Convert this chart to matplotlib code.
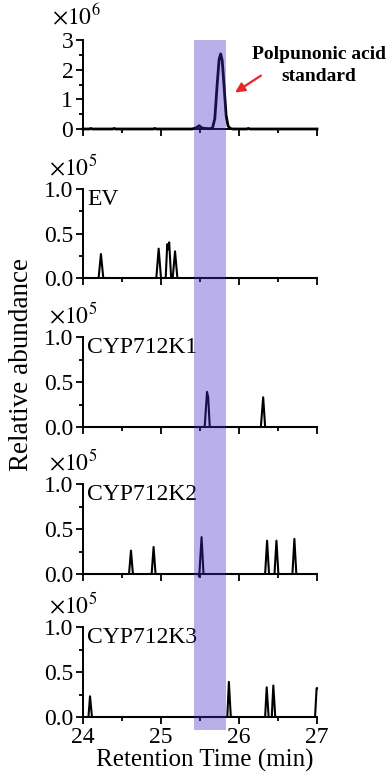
import numpy as np
import matplotlib.pyplot as plt
from matplotlib.patches import Rectangle
from matplotlib import transforms

plt.rcParams['font.family'] = ['Liberation Serif', 'DejaVu Serif']
plt.rcParams['mathtext.fontset'] = 'stix'

# standard trace (x1e6)
std_x = [24.0, 24.08, 24.1, 24.12, 24.38, 24.4, 24.42, 24.9, 24.92, 24.94,
         25.4, 25.45, 25.49, 25.52, 25.56, 25.62, 25.66, 25.69, 25.72, 25.745,
         25.765, 25.785, 25.81, 25.835, 25.86, 25.885, 25.92, 26.1, 26.12, 26.14, 27.0]
std_y = [0.0, 0.0, 0.02, 0.0, 0.0, 0.02, 0.0, 0.0, 0.02, 0.0,
         0.0, 0.04, 0.11, 0.04, 0.02, 0.01, 0.03, 0.35, 1.5, 2.35,
         2.53, 2.3, 1.4, 0.45, 0.1, 0.02, 0.0, 0.0, 0.02, 0.0, 0.0]

# sample traces (x1e5)
ev_x = [24.0, 24.2, 24.23, 24.26, 24.94, 24.97, 25.0, 25.06, 25.08, 25.09, 25.105, 25.13,
        25.15, 25.18, 25.21, 27.0]
ev_y = [0, 0, 0.27, 0, 0, 0.33, 0, 0, 0.38, 0.32, 0.40, 0,
        0, 0.30, 0, 0]

k1_x = [24.0, 25.56, 25.59, 25.605, 25.625, 26.28, 26.31, 26.335, 27.0]
k1_y = [0, 0, 0.39, 0.33, 0, 0, 0.33, 0, 0]

k2_x = [24.0, 24.59, 24.615, 24.64, 24.88, 24.905, 24.93, 25.48, 25.49, 25.52, 25.545,
        26.335, 26.36, 26.385, 26.455, 26.48, 26.505, 26.685, 26.71, 26.735, 27.0]
k2_y = [0, 0, 0.26, 0, 0, 0.30, 0, 0, -0.03, 0.41, 0,
        0, 0.37, 0, 0, 0.37, 0, 0, 0.39, 0, 0]

k3_x = [24.0, 24.07, 24.09, 24.115, 25.85, 25.87, 25.895, 26.335, 26.355, 26.38,
        26.42, 26.44, 26.465, 26.975, 26.995, 27.0]
k3_y = [0, 0, 0.23, 0, 0, 0.39, 0, 0, 0.33, 0,
        0, 0.35, 0, 0, 0.32, 0.32]

sample_names = ['EV', 'CYP712K1', 'CYP712K2', 'CYP712K3']
sample_x = [ev_x, k1_x, k2_x, k3_x]
sample_y = [ev_y, k1_y, k2_y, k3_y]

shade_start, shade_end = 25.42, 25.83
xticks = [24, 25, 26, 27]

W, H = 391, 778
fig = plt.figure(figsize=(W / 100, H / 100), dpi=100)

left, right = 83, 317
# (top, bottom) pixels of each panel
panels = [(40, 129), (189, 278), (337, 427), (484, 574), (627, 717)]
FS = 17


def make_ax(top, bottom):
    ax = fig.add_axes([left / W, 1 - bottom / H, (right - left) / W, (bottom - top) / H])
    for s in ['top', 'right']:
        ax.spines[s].set_visible(False)
    for s in ['left', 'bottom']:
        ax.spines[s].set_linewidth(1.4)
    ax.set_xlim(24, 27)
    ax.set_xticks(xticks)
    ax.set_xticks([24.5, 25.5, 26.5], minor=True)
    ax.tick_params(which='major', length=5, width=1.3, labelsize=FS, pad=2, direction='out')
    ax.tick_params(which='minor', length=3, width=1.3, direction='out')
    ax.patch.set_alpha(0)
    return ax


axes = []
ax = make_ax(*panels[0])
ax.plot(std_x, std_y, color='black', lw=2.0, clip_on=False)
ax.set_ylim(0, 3)
ax.set_yticks([0, 1, 2, 3])
ax.set_yticks([0.5, 1.5, 2.5], minor=True)
ax.set_yticklabels(['0', '1', '2', '3'])
ax.tick_params(axis='x', labelbottom=False)
ax.text((52 - left) / (right - left), 1.12, r'$\times10^{6}$', transform=ax.transAxes,
        fontsize=FS, va='bottom', ha='left')
ax.text(27.02, 2.14, 'Polpunonic acid\nstandard', fontsize=14,
        fontweight='bold', ha='center', va='center', linespacing=1.35)
ax.annotate('', xy=(25.92, 1.18), xytext=(26.31, 1.85),
            arrowprops=dict(arrowstyle='-|>', color='#e8262a', lw=1.6, mutation_scale=14))
axes.append(ax)

for i in range(4):
    ax = make_ax(*panels[i + 1])
    ax.plot(sample_x[i], sample_y[i], color='black', lw=1.5, clip_on=False)
    ax.set_ylim(0, 1.0)
    ax.set_yticks([0, 0.5, 1.0])
    ax.set_yticks([0.25, 0.75], minor=True)
    ax.set_yticklabels(['0.0', '0.5', '1.0'])
    ax.text((49 - left) / (right - left), 1.1, r'$\times10^{5}$', transform=ax.transAxes,
            fontsize=FS, va='bottom', ha='left')
    ax.text(24.05, 1.0, sample_names[i], fontsize=FS, va='top', ha='left')
    if i < 3:
        ax.tick_params(axis='x', labelbottom=False)
    axes.append(ax)

axes[-1].set_xlabel('Retention Time (min)', fontsize=18)
axes[-1].xaxis.set_label_coords(0.52, -0.36)

fig.text(22 / W, 1 - 365 / H, 'Relative abundance', rotation=90, fontsize=19.5,
         ha='center', va='center')

# shaded window spanning all panels
trans = transforms.blended_transform_factory(axes[-1].transData, fig.transFigure)
rect = Rectangle((shade_start, 1 - 730 / H), shade_end - shade_start, (730 - 40) / H,
                 transform=trans, facecolor=(0.27, 0.16, 0.77), alpha=0.37,
                 edgecolor='none', zorder=10)
fig.add_artist(rect)

fig.savefig('out.png', dpi=100)
